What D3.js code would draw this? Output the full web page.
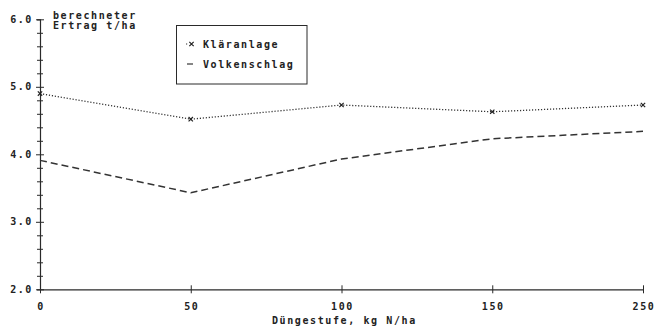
<!DOCTYPE html>
<html>
<head>
<meta charset="utf-8">
<script src="https://cdn.jsdelivr.net/npm/d3@7"></script>
<style>
  html, body { margin: 0; padding: 0; background: #fff; }
  svg text {
    font-family: "DejaVu Sans Mono", "Liberation Mono", monospace;
    font-weight: bold;
    font-size: 10px;
    letter-spacing: 1.6px;
    fill: #222;
  }
</style>
</head>
<body>
<svg id="chart" width="655" height="329"></svg>
<script>
// Fertiliser levels (kg N/ha) and computed yields (t/ha)
const categories = ["0", "50", "100", "150", "250"];
const klaeranlage = [4.90, 4.52, 4.73, 4.63, 4.73];
const volkenschlag = [3.91, 3.43, 3.93, 4.23, 4.34];
const yTickValues = d3.range(2, 6.0001, 0.2).map(v => +v.toFixed(1));
const yLabelValues = [2, 3, 4, 5, 6];
const seriesNames = ["Kläranlage", "Volkenschlag"];
const yTitle = ["berechneter", "Ertrag t/ha"];
const xTitle = "Düngestufe, kg N/ha";

const svg = d3.select("#chart");
const ink = "#2a2a2a";

const x = d3.scalePoint().domain(categories).range([40, 643]);
const y = d3.scaleLinear().domain([2, 6]).range([289.3, 19.3]);

// y axis: minor ticks every 0.2 crossing the line, labels on whole numbers
const yAxis = svg.append("g").attr("transform", "translate(40,0)")
  .call(d3.axisLeft(y).tickValues(yTickValues).tickSize(3).tickFormat(() => ""));
yAxis.select(".domain").attr("stroke", ink).attr("stroke-width", 1.2);
yAxis.selectAll(".tick line")
  .attr("stroke", ink)
  .attr("x1", d => yLabelValues.includes(d) ? -4 : -3)
  .attr("x2", d => yLabelValues.includes(d) ? 4 : 3);

svg.append("g").selectAll("text").data(yLabelValues).join("text")
  .attr("x", 33).attr("y", d => y(d)).attr("dy", "0.36em")
  .attr("text-anchor", "end")
  .text(d => d3.format(".1f")(d));

// x axis with ticks crossing the line
const xAxis = svg.append("g").attr("transform", `translate(0,${y(2)})`)
  .call(d3.axisBottom(x).tickSize(4).tickSizeOuter(0).tickFormat(""));
xAxis.select(".domain").attr("stroke", ink).attr("stroke-width", 1.2);
xAxis.selectAll(".tick line").attr("stroke", ink).attr("y1", -4).attr("y2", 4);

svg.append("g").selectAll("text").data(categories).join("text")
  .attr("x", d => x(d) + 1).attr("y", 310)
  .attr("text-anchor", "middle")
  .text(d => d);

svg.append("text").attr("x", 272).attr("y", 324).text(xTitle);

svg.selectAll(".ytitle").data(yTitle).join("text")
  .attr("class", "ytitle")
  .attr("x", 53).attr("y", (d, i) => 18.5 + i * 10)
  .text(d => d);

// series lines
const line = d3.line().x((d, i) => x(categories[i])).y(d => y(d));

svg.append("path").datum(klaeranlage)
  .attr("d", line).attr("fill", "none")
  .attr("stroke", "#333").attr("stroke-width", 1.3)
  .attr("stroke-dasharray", "1.2,1.8");

svg.append("path").datum(volkenschlag)
  .attr("d", line).attr("fill", "none")
  .attr("stroke", "#333").attr("stroke-width", 1.5)
  .attr("stroke-dasharray", "7,4");

// point markers for Kläranlage
const marker = d3.symbol(d3.symbolX, 14);
svg.append("g").selectAll("path").data(klaeranlage).join("path")
  .attr("transform", (d, i) => `translate(${x(categories[i])},${y(d)})`)
  .attr("d", marker).attr("fill", "none")
  .attr("stroke", "#222").attr("stroke-width", 1.2);

// legend
const legend = svg.append("g");
legend.append("rect")
  .attr("x", 176.5).attr("y", 25.5).attr("width", 130.5).attr("height", 58.5)
  .attr("fill", "none").attr("stroke", ink).attr("stroke-width", 1);

legend.append("line")
  .attr("x1", 186).attr("x2", 189).attr("y1", 44).attr("y2", 44)
  .attr("stroke", "#333").attr("stroke-width", 1.2).attr("stroke-dasharray", "1.2,1.8");
legend.append("path")
  .attr("transform", "translate(191.5,44)")
  .attr("d", marker).attr("fill", "none")
  .attr("stroke", "#222").attr("stroke-width", 1.2);
legend.append("line")
  .attr("x1", 187).attr("x2", 193).attr("y1", 64).attr("y2", 64)
  .attr("stroke", "#444").attr("stroke-width", 1.3);

legend.selectAll("text").data(seriesNames).join("text")
  .attr("x", 203).attr("y", (d, i) => 47.5 + i * 20)
  .text(d => d);
</script>
</body>
</html>
